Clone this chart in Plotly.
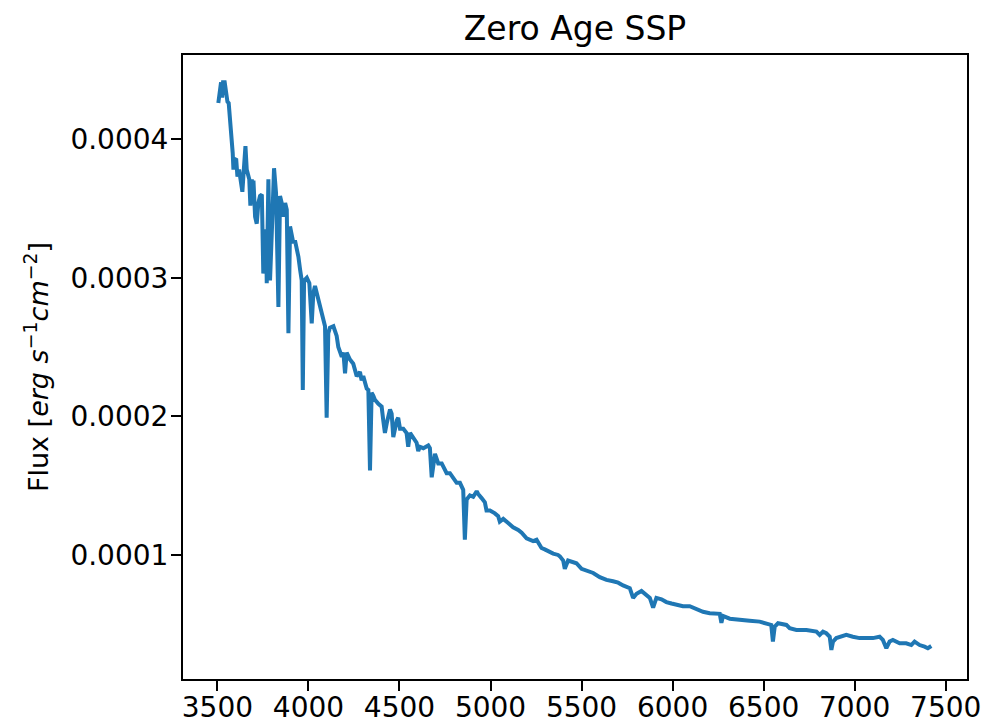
import plotly.graph_objects as go

wavelength = [
    3505, 3514, 3520, 3526, 3531, 3540, 3548, 3555, 3562, 3573, 3581, 3584, 3588, 3592, 3603,
    3610, 3619, 3628, 3637, 3645, 3654, 3661, 3670, 3675, 3681, 3689, 3694, 3698, 3707, 3716,
    3725, 3734, 3744, 3752, 3757, 3762, 3767, 3771, 3780, 3789, 3800, 3811, 3822, 3835, 3844,
    3853, 3862, 3872, 3881, 3890, 3899, 3908, 3917, 3926, 3936, 3945, 3954, 3963, 3969, 3976,
    3991, 4005, 4018, 4027, 4036, 4046, 4064, 4082, 4091, 4100, 4109, 4118, 4137, 4155, 4164,
    4183, 4192, 4201, 4210, 4228, 4246, 4265, 4283, 4292, 4301, 4320, 4329, 4338, 4347, 4356,
    4365, 4384, 4402, 4411, 4420, 4430, 4448, 4457, 4466, 4485, 4493, 4503, 4521, 4539, 4548,
    4558, 4576, 4594, 4603, 4612, 4631, 4658, 4667, 4677, 4695, 4713, 4732, 4740, 4759, 4777,
    4795, 4814, 4832, 4850, 4859, 4869, 4887, 4905, 4924, 4932, 4951, 4969, 4978, 4997, 5024,
    5042, 5051, 5070, 5097, 5124, 5152, 5171, 5198, 5216, 5234, 5253, 5280, 5298, 5326, 5344,
    5371, 5381, 5399, 5408, 5426, 5454, 5472, 5500, 5527, 5564, 5600, 5637, 5673, 5701, 5728,
    5765, 5783, 5802, 5829, 5857, 5875, 5893, 5911, 5939, 5966, 5994, 6021, 6057, 6094, 6131,
    6167, 6204, 6241, 6259, 6268, 6277, 6314, 6369, 6423, 6478, 6524, 6542, 6551, 6561, 6579,
    6625, 6643, 6680, 6735, 6790, 6808, 6826, 6844, 6863, 6872, 6881, 6899, 6917, 6954, 6990,
    7027, 7064, 7100, 7137, 7155, 7174, 7192, 7210, 7247, 7283, 7311, 7329, 7357, 7384, 7402,
    7421,
]

flux = [
    4.26e-4, 4.36e-4, 4.41e-4, 4.30e-4, 4.41e-4, 4.41e-4, 4.33e-4, 4.27e-4, 4.26e-4, 4.09e-4,
    4.02e-4, 3.90e-4, 3.78e-4, 3.85e-4, 3.86e-4, 3.73e-4, 3.78e-4, 3.71e-4, 3.62e-4, 3.78e-4,
    3.95e-4, 3.78e-4, 3.71e-4, 3.71e-4, 3.52e-4, 3.71e-4, 3.60e-4, 3.70e-4, 3.44e-4, 3.39e-4,
    3.54e-4, 3.59e-4, 3.60e-4, 3.03e-4, 3.25e-4, 3.13e-4, 3.35e-4, 2.96e-4, 3.71e-4, 2.98e-4,
    3.37e-4, 3.79e-4, 3.61e-4, 2.79e-4, 3.59e-4, 3.54e-4, 3.44e-4, 3.54e-4, 3.49e-4, 2.60e-4,
    3.37e-4, 3.32e-4, 3.25e-4, 3.27e-4, 3.22e-4, 3.15e-4, 3.06e-4, 2.98e-4, 2.19e-4, 2.98e-4,
    3.00e-4, 2.96e-4, 2.67e-4, 2.89e-4, 2.94e-4, 2.89e-4, 2.79e-4, 2.70e-4, 2.65e-4, 1.99e-4,
    2.60e-4, 2.64e-4, 2.65e-4, 2.58e-4, 2.50e-4, 2.43e-4, 2.46e-4, 2.31e-4, 2.46e-4, 2.41e-4,
    2.38e-4, 2.29e-4, 2.32e-4, 2.26e-4, 2.29e-4, 2.20e-4, 2.19e-4, 1.61e-4, 2.17e-4, 2.15e-4,
    2.12e-4, 2.09e-4, 2.07e-4, 1.97e-4, 1.88e-4, 1.95e-4, 2.05e-4, 2.02e-4, 1.85e-4, 1.97e-4,
    1.99e-4, 1.91e-4, 1.91e-4, 1.88e-4, 1.78e-4, 1.88e-4, 1.84e-4, 1.81e-4, 1.75e-4, 1.78e-4,
    1.77e-4, 1.79e-4, 1.77e-4, 1.56e-4, 1.73e-4, 1.66e-4, 1.66e-4, 1.64e-4, 1.59e-4, 1.59e-4,
    1.55e-4, 1.52e-4, 1.52e-4, 1.47e-4, 1.11e-4, 1.40e-4, 1.43e-4, 1.42e-4, 1.46e-4, 1.44e-4,
    1.41e-4, 1.38e-4, 1.32e-4, 1.32e-4, 1.30e-4, 1.28e-4, 1.24e-4, 1.26e-4, 1.23e-4, 1.20e-4,
    1.18e-4, 1.16e-4, 1.12e-4, 1.11e-4, 1.10e-4, 1.11e-4, 1.05e-4, 1.04e-4, 1.02e-4, 1.01e-4,
    1.00e-4, 0.99e-4, 0.96e-4, 0.90e-4, 0.96e-4, 0.95e-4, 0.94e-4, 0.90e-4, 0.89e-4, 0.87e-4,
    0.84e-4, 0.82e-4, 0.81e-4, 0.80e-4, 0.78e-4, 0.76e-4, 0.69e-4, 0.72e-4, 0.74e-4, 0.71e-4,
    0.69e-4, 0.62e-4, 0.69e-4, 0.68e-4, 0.66e-4, 0.65e-4, 0.64e-4, 0.63e-4, 0.63e-4, 0.61e-4,
    0.59e-4, 0.58e-4, 0.58e-4, 0.575e-4, 0.51e-4, 0.56e-4, 0.54e-4, 0.536e-4, 0.526e-4, 0.519e-4,
    0.507e-4, 0.495e-4, 0.375e-4, 0.483e-4, 0.507e-4, 0.495e-4, 0.471e-4, 0.459e-4, 0.459e-4, 0.447e-4,
    0.423e-4, 0.447e-4, 0.435e-4, 0.41e-4, 0.315e-4, 0.375e-4, 0.40e-4, 0.41e-4, 0.423e-4, 0.41e-4,
    0.40e-4, 0.40e-4, 0.40e-4, 0.41e-4, 0.387e-4, 0.327e-4, 0.375e-4, 0.387e-4, 0.363e-4, 0.363e-4,
    0.35e-4, 0.375e-4, 0.35e-4, 0.338e-4, 0.327e-4, 0.343e-4,
]

x_ticks = [3500, 4000, 4500, 5000, 5500, 6000, 6500, 7000, 7500]
y_ticks = [0.0001, 0.0002, 0.0003, 0.0004]
y_tick_labels = ["0.0001", "0.0002", "0.0003", "0.0004"]

title_text = "Zero Age SSP"
y_title = "Flux [<i>erg</i> <i>s</i><sup>\u22121</sup><i>cm</i><sup>\u22122</sup>]"

fig = go.Figure()
fig.add_trace(go.Scatter(
    x=wavelength, y=flux, mode="lines",
    line=dict(color="#1f77b4", width=4),
    showlegend=False,
))

axis_common = dict(
    showline=True, linecolor="black", linewidth=2, mirror=True,
    ticks="outside", ticklen=10, tickwidth=2, tickcolor="black",
    showgrid=False, zeroline=False, automargin=False,
    tickfont=dict(family="DejaVu Sans", size=28, color="black"),
)

fig.update_layout(
    width=985, height=727,
    margin=dict(l=183, r=18, t=55, b=48),
    paper_bgcolor="white", plot_bgcolor="white",
    title=dict(text=title_text, x=(183 + 967) / 2 / 985, xanchor="center",
               y=1 - 28 / 727, yanchor="middle",
               font=dict(family="DejaVu Sans", size=33, color="black")),
    xaxis=dict(range=[3311, 7617], tickvals=x_ticks, ticklabelstandoff=-8, **axis_common),
    yaxis=dict(range=[1.05e-5, 4.607e-4], tickvals=y_ticks, ticktext=y_tick_labels,
               ticklabelstandoff=-3,
               title=dict(text=y_title, font=dict(family="DejaVu Sans", size=27, color="black"),
                          standoff=14),
               **axis_common),
)

fig.write_html("out.html")
